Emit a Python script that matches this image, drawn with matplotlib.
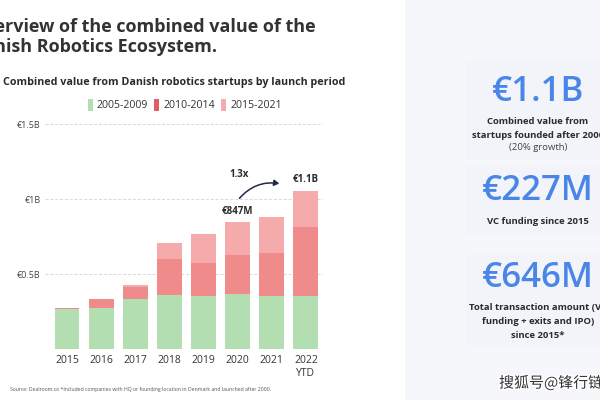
import matplotlib.pyplot as plt
from matplotlib.patches import Rectangle, FancyArrowPatch
import matplotlib.patheffects as pe

years = ["2015", "2016", "2017", "2018", "2019", "2020", "2021", "2022\nYTD"]
# value in € billions by launch period of the startups
v_2005_2009 = [0.267, 0.275, 0.333, 0.360, 0.353, 0.367, 0.353, 0.353]
v_2010_2014 = [0.006, 0.056, 0.078, 0.242, 0.222, 0.262, 0.289, 0.458]
v_2015_2021 = [0.000, 0.000, 0.013, 0.103, 0.194, 0.216, 0.240, 0.244]
period_labels = ["2005-2009", "2010-2014", "2015-2021"]
y_ticks = [0.5, 1.0, 1.5]
y_tick_labels = ["€0.5B", "€1B", "€1.5B"]

GREEN = "#b3deb1"
RED = "#f08b8b"
PINK = "#f5abab"
LEGEND_RED = "#e45c66"
BLUE = "#4a86e8"
DARK = "#2b2b2b"

plt.rcParams["font.family"] = ["Open Sans", "DejaVu Sans"]

W, H = 600, 400
fig = plt.figure(figsize=(6, 4), dpi=100)
fig.patch.set_facecolor("white")


def fx(px):
    return px / W


def fy(py):
    return 1 - py / H


# right-hand summary panel
fig.patches.append(Rectangle((fx(405), 0), fx(195), 1, transform=fig.transFigure,
                             facecolor="#f5f7fb", edgecolor="none", zorder=0))
for top, bottom in [(60, 160), (165, 235), (255, 345)]:
    fig.patches.append(Rectangle((fx(465), fy(bottom)), fx(135), fy(top) - fy(bottom),
                                 transform=fig.transFigure, facecolor="#f2f4f9",
                                 edgecolor="none", zorder=0))

# chart
ax = fig.add_axes([fx(45), fy(349), fx(323 - 45), fy(124) - fy(349)])
ax.set_facecolor("none")
x = list(range(len(years)))
bottom2 = v_2005_2009
bottom3 = [a + b for a, b in zip(v_2005_2009, v_2010_2014)]
ax.bar(x, v_2005_2009, width=0.73, color=GREEN, zorder=2)
ax.bar(x, v_2010_2014, width=0.73, bottom=bottom2, color=RED, zorder=2)
ax.bar(x, v_2015_2021, width=0.73, bottom=bottom3, color=PINK, zorder=2)
totals = [a + b for a, b in zip(bottom3, v_2015_2021)]

ax.set_xlim(-0.644, 7.5)
ax.set_ylim(0, 1.5)
ax.set_yticks(y_ticks)
ax.set_yticklabels(y_tick_labels, fontsize=6.5, color="#444444")
ax.set_xticks(x)
ax.set_xticklabels(years, fontsize=7.5, color="#333333", linespacing=1.3)
ax.tick_params(length=0, pad=4)
ax.tick_params(axis="y", pad=3)
for s in ax.spines.values():
    s.set_visible(False)
for t in y_ticks:
    ax.axhline(t, color="#d8d8d8", lw=0.7, ls=(0, (3, 2)), zorder=1)
ax.axhline(0, color="#e2e2e2", lw=0.7, zorder=1)

ax.text(5, totals[5] + 0.035, "€847M", ha="center", va="bottom",
        fontsize=7, fontweight="bold", color=DARK)
ax.text(7, totals[7] + 0.04, "€1.1B", ha="center", va="bottom",
        fontsize=7, fontweight="bold", color=DARK)
ax.text(5.05, 1.13, "1.3x", ha="center", va="bottom",
        fontsize=7, fontweight="bold", color=DARK)
arrow = FancyArrowPatch((5.0, 0.99), (6.3, 1.1), connectionstyle="arc3,rad=-0.3",
                        arrowstyle="-|>,head_length=3,head_width=1.8",
                        color="#1f2a44", lw=1.1, zorder=3)
ax.add_patch(arrow)

# titles
fig.text(fx(-30), fy(27), "Overview of the combined value of the", ha="left", va="center",
         fontsize=13, fontweight="bold", color="#333333")
fig.text(fx(-30), fy(47), "Danish Robotics Ecosystem.", ha="left", va="center",
         fontsize=13, fontweight="bold", color="#333333")
fig.text(fx(3), fy(83), "Combined value from Danish robotics startups by launch period",
         ha="left", va="center", fontsize=7.75, fontweight="bold", color=DARK)

# legend
for px, label, col in zip([88, 154, 221], period_labels, [GREEN, LEGEND_RED, PINK]):
    fig.patches.append(Rectangle((fx(px), fy(111)), fx(5), fy(99) - fy(111),
                                 transform=fig.transFigure, facecolor=col, edgecolor="none"))
    fig.text(fx(px + 9), fy(105), label, ha="left", va="center", fontsize=7.6, color="#333333")

fig.text(fx(10), fy(389),
         "Source: Dealroom.co *Included companies with HQ or founding location in Denmark and launched after 2000.",
         ha="left", va="center", fontsize=3.7, color="#555555")

# right panel text
cx = fx(538)
fig.text(cx, fy(92), "€1.1B", ha="center", va="center", fontsize=25, fontweight=600, color=BLUE)
fig.text(cx, fy(121), "Combined value from", ha="center", va="center", fontsize=6.8,
         fontweight="bold", color=DARK)
fig.text(cx, fy(135), "startups founded after 2000", ha="center", va="center", fontsize=6.8,
         fontweight="bold", color=DARK)
fig.text(cx, fy(148), "(20% growth)", ha="center", va="center", fontsize=6.8, color="#444444")
fig.text(cx, fy(191), "€227M", ha="center", va="center", fontsize=25, fontweight=600, color=BLUE)
fig.text(cx, fy(221), "VC funding since 2015", ha="center", va="center", fontsize=6.8,
         fontweight="bold", color=DARK)
fig.text(cx, fy(278), "€646M", ha="center", va="center", fontsize=25, fontweight=600, color=BLUE)
fig.text(cx, fy(308), "Total transaction amount (VC", ha="center", va="center", fontsize=6.8,
         fontweight="bold", color=DARK)
fig.text(cx, fy(322), "funding + exits and IPO)", ha="center", va="center", fontsize=6.8,
         fontweight="bold", color=DARK)
fig.text(cx, fy(335), "since 2015*", ha="center", va="center", fontsize=6.8,
         fontweight="bold", color=DARK)

fig.text(fx(499), fy(383), "搜狐号@锋行链盟", ha="left", va="center", fontsize=10.8,
         color="#333333", family=["Noto Sans CJK SC", "DejaVu Sans"],
         path_effects=[pe.withStroke(linewidth=2, foreground="white")])

fig.savefig("out.png", dpi=100)
